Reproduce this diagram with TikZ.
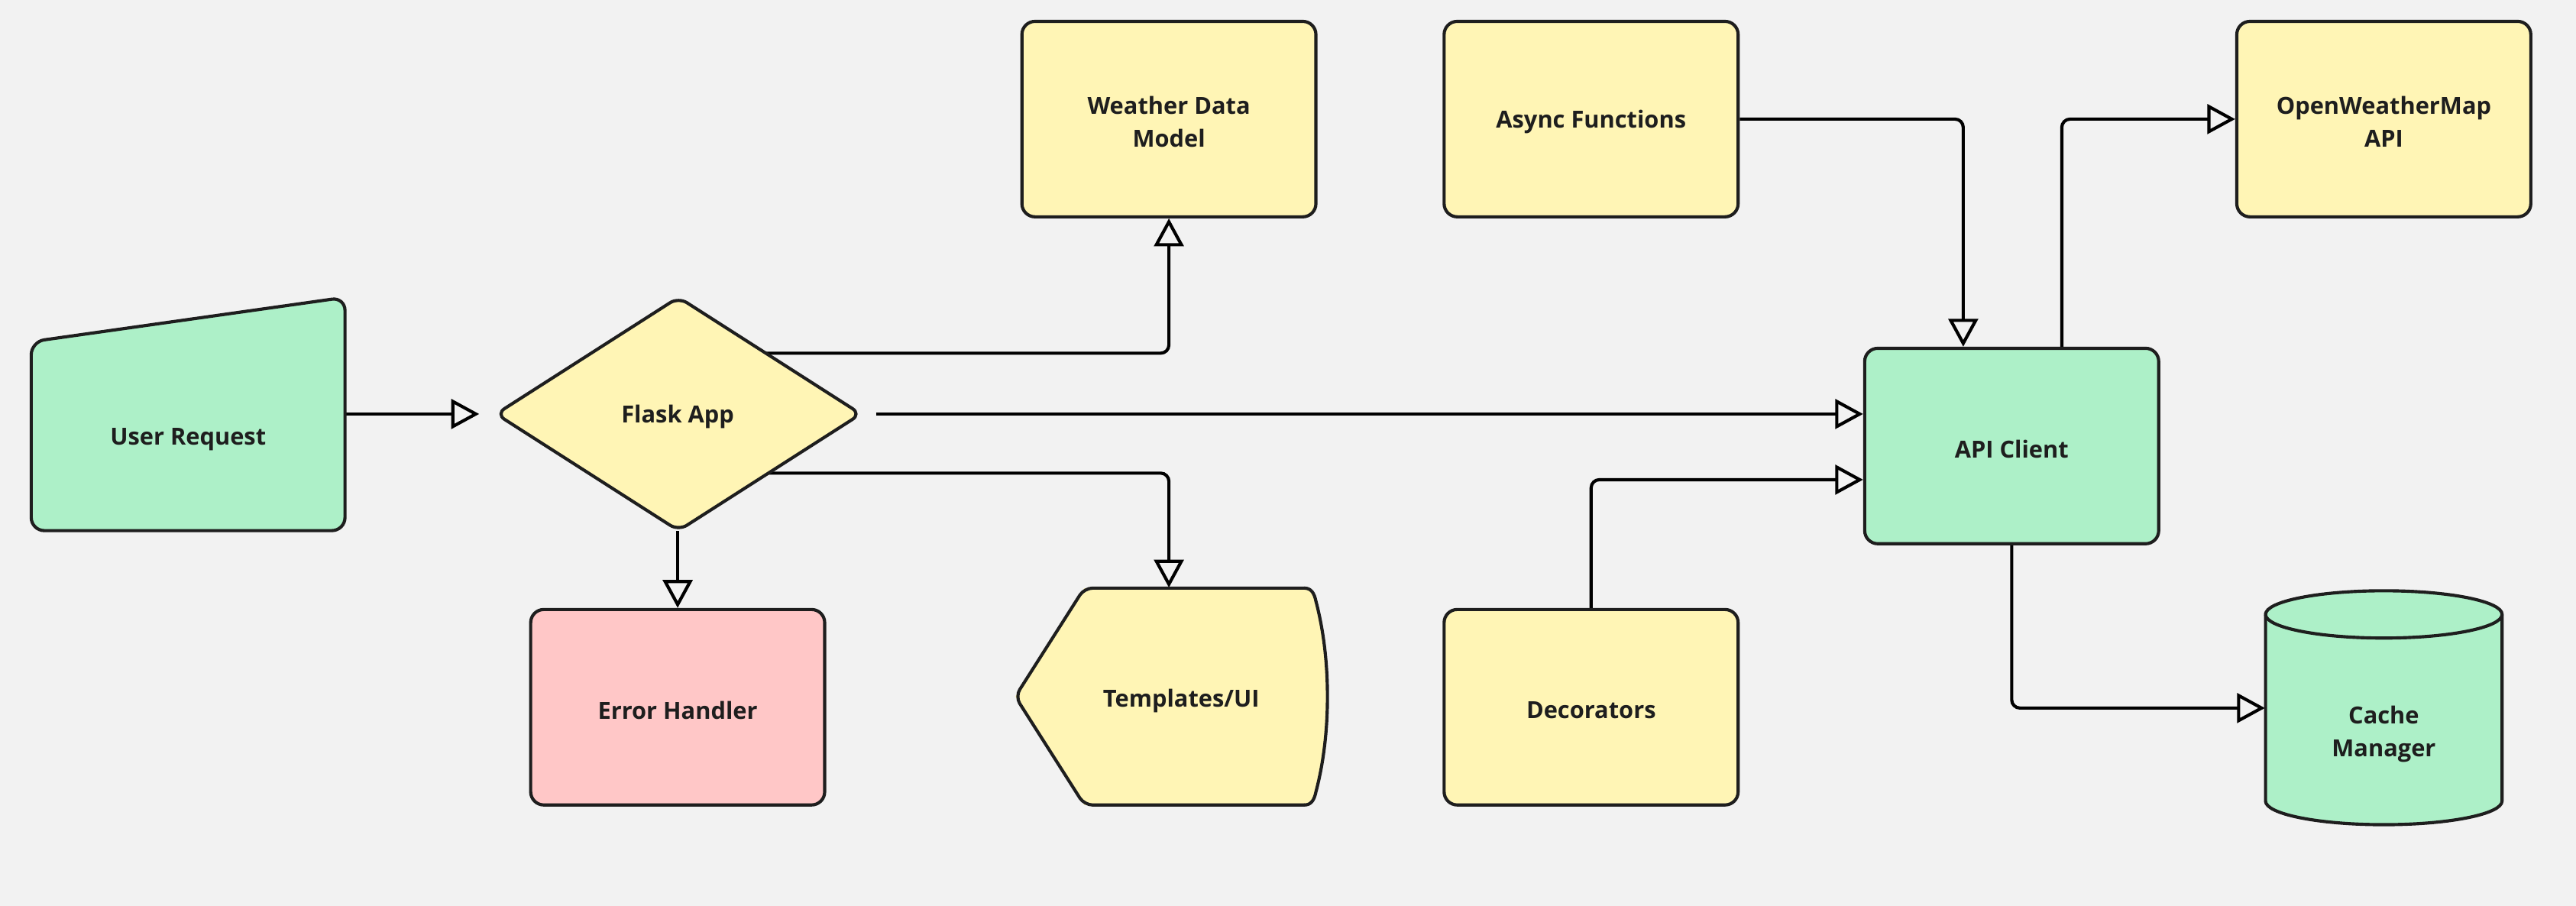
\documentclass[tikz,border=0pt]{standalone}
\usepackage{fontspec}
\setmainfont{Open Sans}
\usetikzlibrary{arrows.meta,calc}
\definecolor{bgcol}{HTML}{F2F2F2}
\definecolor{ylw}{HTML}{FFF5B5}
\definecolor{grn}{HTML}{ADF0C8}
\definecolor{pnk}{HTML}{FFC7C7}
\definecolor{ink}{HTML}{1E1E1E}
\pgfdeclarelayer{back}
\pgfdeclarelayer{conn}
\pgfsetlayers{back,conn,main}
\tikzset{
  lbl/.style={font=\fontsize{8.15}{11.4}\selectfont\bfseries, text=ink, align=center, inner sep=0pt},
  txt/.style={label={[lbl,yshift=-0.035cm]center:#1}},
  shp/.style={draw=ink, line width=1.1pt, rounded corners=0.16cm},
  box/.style={shp, minimum width=3.58cm, minimum height=2.38cm, inner sep=0pt, txt={#1}},
  ghost/.style={inner sep=0pt, draw=none},
  arr/.style={draw=black, line width=1.1pt, rounded corners=0.1cm,
    -{Triangle[length=0.34cm,width=0.36cm,fill=bgcol,line width=1.1pt]}}
}
\begin{document}
\begin{tikzpicture}[x=0.02cm,y=-0.02cm]
\begin{pgfonlayer}{back}
\fill[bgcol] (0,0) rectangle (1568,551.5);
\end{pgfonlayer}
\useasboundingbox (0,0) rectangle (1568,551.5);

% User Request (manual input shape)
\draw[shp, fill=grn] (19,323) -- (210,323) -- (210,181) -- (19,208) -- cycle;
\node[ghost, minimum width=3.82cm, minimum height=2.3cm, txt={User Request}] (ur) at (114.5,265.5) {};

% Flask App diamond
\draw[shp, rounded corners=0.12cm, fill=ylw] (302,252) -- (413,181) -- (524,252) -- (413,323) -- cycle;
\node[ghost, minimum width=4.82cm, minimum height=2.84cm, txt={Flask App}] (flask) at (412.5,252) {};

% boxes
\node[box={Weather Data\\Model}, fill=ylw] (wdm) at (711.5,72.5) {};
\node[box={Async Functions}, fill=ylw] (async) at (968.5,72.5) {};
\node[box={OpenWeatherMap\\API}, fill=ylw] (owm) at (1451,72.5) {};
\node[box={API Client}, fill=grn] (api) at (1224.5,271.5) {};
\node[box={Error Handler}, fill=pnk] (err) at (412.5,430.5) {};
\node[box={Decorators}, fill=ylw] (dec) at (968.5,430.5) {};

% Templates/UI (display shape)
\fill[ylw] (794,490) -- (660,490) -- (618,424) -- (660,358) -- (794,358)
  .. controls (798,358) and (800,361) .. (801,366)
  .. controls (806,385) and (808,405) .. (808,424)
  .. controls (808,443) and (806,463) .. (801,482)
  .. controls (800,487) and (798,490) .. (794,490) -- cycle;
\draw[draw=ink, line width=1.1pt, line cap=round, rounded corners=0.1cm]
  (794,490) -- (660,490) -- (618,424) -- (660,358) -- (794,358);
\draw[draw=ink, line width=1.1pt, line cap=round] (794,358)
  .. controls (798,358) and (800,361) .. (801,366)
  .. controls (806,385) and (808,405) .. (808,424)
  .. controls (808,443) and (806,463) .. (801,482)
  .. controls (800,487) and (798,490) .. (794,490);
\node[ghost, minimum width=3.74cm, minimum height=2.64cm] (tpl) at (711.5,424) {};
\node[lbl] (tpltxt) at (719,426.5) {Templates/UI};

% Cache Manager cylinder
\draw[draw=ink, line width=1.1pt, fill=grn]
  (1379,374) -- (1379,487.6) arc[start angle=180,end angle=360,x radius=1.44cm,y radius=0.288cm]
  -- (1523,374) arc[start angle=0,end angle=180,x radius=1.44cm,y radius=0.288cm] -- cycle;
\draw[draw=ink, line width=1.1pt] (1379,374) arc[start angle=180,end angle=360,x radius=1.44cm,y radius=0.288cm];
\node[ghost, minimum width=2.88cm, minimum height=2.8cm] (cache) at (1451,431) {};
\node[lbl] (cachetxt) at (1451,447) {Cache\\Manager};

% connectors
\begin{pgfonlayer}{conn}
\draw[arr] (ur.east |- flask.west) -- (flask.west);
\draw[arr] ($(flask.center)+(0,-37)$) -| (wdm.south);
\draw[arr] ($(flask.center)+(0,36)$) -| (tpl.north);
\draw[arr] (flask.south) -- (err.north);
\draw[arr] (flask.east) -- (api.west |- flask.east);
\draw[arr] (async.east) -| ($(api.north)+(-29.5,0)$);
\draw[arr] ($(api.north)+(30.5,0)$) |- (owm.west);
\draw[arr] (dec.north) |- ($(api.west)+(0,20.5)$);
\draw[arr] (api.south) |- (cache.west);
\end{pgfonlayer}
\end{tikzpicture}
\end{document}
